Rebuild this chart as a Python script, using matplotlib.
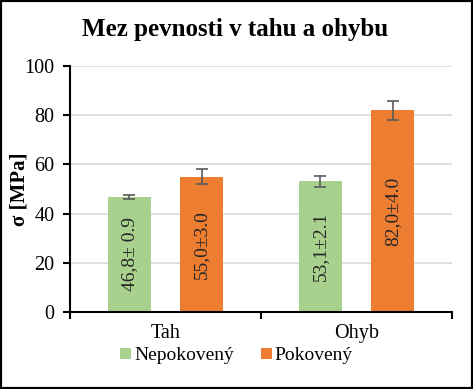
import numpy as np
import matplotlib as mpl
mpl.use('Agg')
import matplotlib.pyplot as plt

categories = ['Tah', 'Ohyb']
nepokoveny = [46.8, 53.1]
nepokoveny_err = [0.9, 2.1]
pokoveny = [55.0, 82.0]
pokoveny_err = [3.0, 4.0]
labels_nep = ['46,8\u00b1 0.9', '53,1\u00b12.1']
labels_pok = ['55,0\u00b13.0', '82,0\u00b14.0']

plt.rcParams['font.family'] = ['Liberation Serif', 'DejaVu Serif']

fig = plt.figure(figsize=(4.73, 3.89), dpi=100)
ax = fig.add_axes([0.148, 0.198, 0.808, 0.632])

x = np.arange(len(categories))
w = 0.225
off = 0.19
ax.bar(x - off, nepokoveny, w, color='#A9D18E', label='Nepokovený', zorder=2)
ax.bar(x + off, pokoveny, w, color='#ED7D31', label='Pokovený', zorder=2)
ax.errorbar(x - off, nepokoveny, yerr=nepokoveny_err, fmt='none', ecolor='#595959',
            elinewidth=1.2, capsize=4, capthick=1.2, zorder=3)
ax.errorbar(x + off, pokoveny, yerr=pokoveny_err, fmt='none', ecolor='#595959',
            elinewidth=1.2, capsize=4, capthick=1.2, zorder=3)

for xi, v, t in zip(x - off, nepokoveny, labels_nep):
    ax.text(xi, v / 2, t, rotation=90, ha='center', va='center', fontsize=14, color='#262626', zorder=4)
for xi, v, t in zip(x + off, pokoveny, labels_pok):
    ax.text(xi, v / 2, t, rotation=90, ha='center', va='center', fontsize=14, color='#262626', zorder=4)

ax.set_xlim(-0.5, 1.5)
ax.set_ylim(0, 100)
ax.set_yticks(range(0, 101, 20))
ax.yaxis.grid(True, color='#D9D9D9', linewidth=1.2, zorder=0)
ax.set_axisbelow(True)
ax.set_xticks(x)
ax.set_xticklabels(categories, fontsize=14.5)
ax.tick_params(axis='x', length=0, pad=9)
ax.set_xticks([-0.5, 0.5, 1.5], minor=True)
ax.tick_params(axis='x', which='minor', length=5, width=1.5, direction='out')
ax.tick_params(axis='y', labelsize=14.5, length=5, width=1.5, direction='out', pad=6)
for s in ['top', 'right']:
    ax.spines[s].set_visible(False)
for s in ['left', 'bottom']:
    ax.spines[s].set_linewidth(1.5)
ax.set_ylabel('\u03c3 [MPa]', fontsize=15, fontweight='bold')
ax.yaxis.set_label_coords(-0.105, 0.5)

fig.suptitle('Mez pevnosti v tahu a ohybu', fontsize=18, fontweight='bold', x=0.497, y=0.955)

fig.legend(loc='center', bbox_to_anchor=(0.5, 0.085), ncol=2, frameon=False,
           fontsize=14, handlelength=0.55, handleheight=0.55, handletextpad=0.15,
           columnspacing=1.4)

fig.patches.append(mpl.patches.Rectangle((0, 0), 1, 1, transform=fig.transFigure,
                                         fill=False, edgecolor='black', linewidth=3))

plt.savefig('out.png', dpi=100)
